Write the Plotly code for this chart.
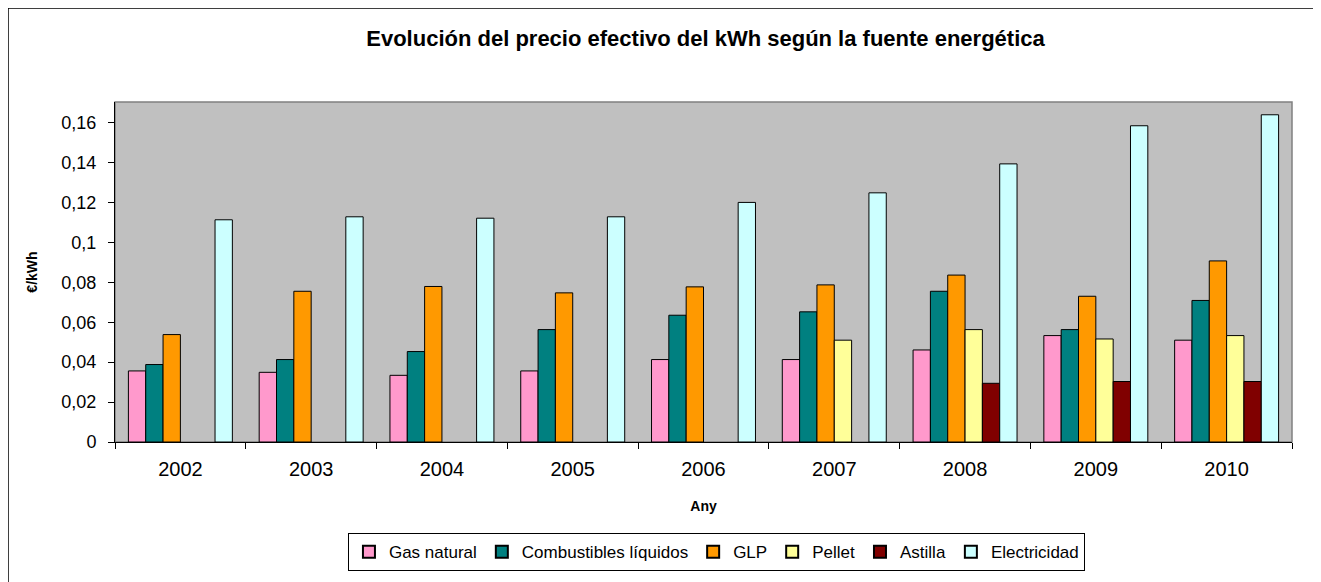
import plotly.graph_objects as go

years = ["2002", "2003", "2004", "2005", "2006", "2007", "2008", "2009", "2010"]
gas_natural = [0.0356, 0.0349, 0.0334, 0.0356, 0.0413, 0.0413, 0.0461, 0.0533, 0.0510]
combustibles = [0.0388, 0.0413, 0.0453, 0.0563, 0.0635, 0.0652, 0.0755, 0.0563, 0.0709]
glp = [0.0538, 0.0755, 0.0779, 0.0747, 0.0777, 0.0787, 0.0836, 0.0730, 0.0907]
pellet = [None, None, None, None, None, 0.0510, 0.0563, 0.0516, 0.0533]
astilla = [None, None, None, None, None, None, 0.0294, 0.0303, 0.0303]
electricidad = [0.1113, 0.1128, 0.1121, 0.1128, 0.1200, 0.1248, 0.1393, 0.1584, 0.1639]

series = [
    ("Gas natural", gas_natural, "#FF99CC"),
    ("Combustibles líquidos", combustibles, "#008080"),
    ("GLP", glp, "#FF9900"),
    ("Pellet", pellet, "#FFFF99"),
    ("Astilla", astilla, "#800000"),
    ("Electricidad", electricidad, "#CCFFFF"),
]

FONT = "Liberation Sans, Arial, sans-serif"

# figure is drawn 8px from page edge (body margin); plot area on page: x 115-1292, y 102-442
W, H = 1321, 582
L, R, T, B = 107, 37, 94, 148
PW = W - L - R
PH = H - T - B

fig = go.Figure()
for name, vals, col in series:
    fig.add_trace(go.Bar(
        x=years, y=vals, name=name,
        marker=dict(color=col, line=dict(color="#000000", width=1)),
    ))

fig.update_layout(
    width=W, height=H,
    margin=dict(l=L, r=R, t=T, b=B),
    paper_bgcolor="white",
    plot_bgcolor="#C0C0C0",
    barmode="group",
    bargap=0.205,
    bargroupgap=0,
    separators=",.",
    font=dict(family=FONT, size=16, color="black"),
    title=dict(
        text="<b>Evolución del precio efectivo del kWh según la fuente energética</b>",
        x=(L + PW / 2 + 2) / W, xanchor="center",
        y=1 - 30 / H, yanchor="middle",
        font=dict(family=FONT, size=22, color="black"),
    ),
    legend=dict(
        orientation="h",
        x=0.511, xanchor="center",
        y=-0.268, yanchor="top",
        bordercolor="black", borderwidth=1,
        bgcolor="white",
        font=dict(family=FONT, size=17),
        itemsizing="constant",
        traceorder="normal",
    ),
    shapes=[
        dict(type="rect", xref="paper", yref="paper",
             x0=-L / PW, x1=1.1, y0=-0.5, y1=1 + T / PH,
             line=dict(color="black", width=1.5), fillcolor="rgba(0,0,0,0)",
             layer="below"),
        dict(type="rect", xref="paper", yref="paper",
             x0=0, x1=1, y0=0, y1=1,
             line=dict(color="#808080", width=1.5), fillcolor="rgba(0,0,0,0)",
             layer="below"),
    ],
)

fig.update_xaxes(
    type="category",
    showgrid=False,
    showline=True, linecolor="#000000", linewidth=1,
    ticks="outside", ticklen=6, tickcolor="#000000",
    tickson="boundaries",
    ticklabelstandoff=9,
    tickfont=dict(family=FONT, size=20),
    title=dict(text="<b>Any</b>", font=dict(family=FONT, size=14), standoff=22),
)
fig.update_yaxes(
    range=[0, 0.1703],
    dtick=0.02, tick0=0,
    tickformat=".2~f",
    showgrid=False, zeroline=False,
    showline=True, linecolor="#000000", linewidth=1,
    ticks="outside", ticklen=6, tickcolor="#000000",
    ticklabelstandoff=8,
    tickfont=dict(family=FONT, size=18),
    title=dict(text="<b>€/kWh</b>", font=dict(family=FONT, size=14), standoff=20),
)

fig.write_html("out.html")
